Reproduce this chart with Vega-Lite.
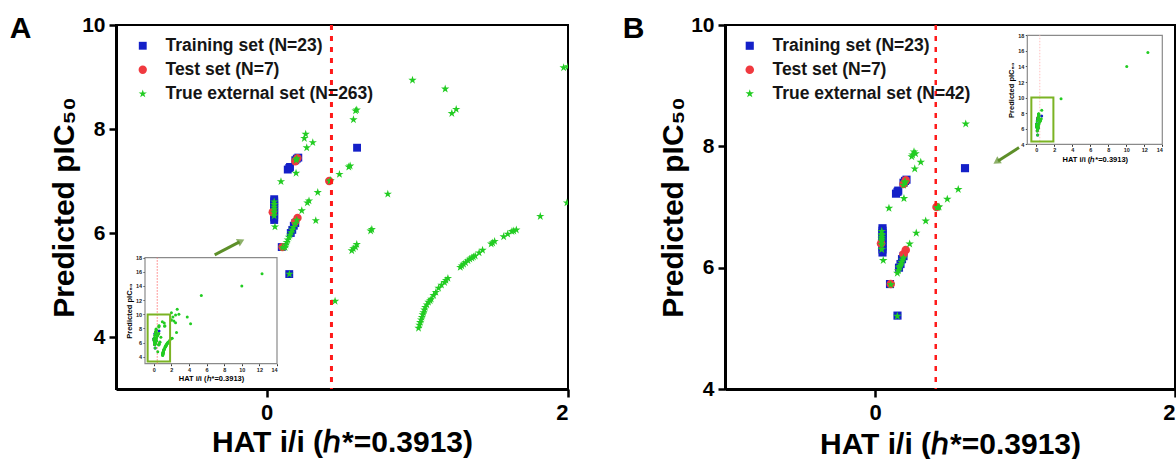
{
  "$schema": "https://vega.github.io/schema/vega-lite/v6.json",
  "padding": {"left": 8, "top": 13, "right": 0, "bottom": 0},
  "background": "white",
  "config": {
    "font": "Liberation Sans",
    "view": {"stroke": "black", "strokeWidth": 2},
    "axis": {"grid": false, "domainColor": "black", "domainWidth": 3, "tickColor": "black", "tickWidth": 2.5, "labelColor": "black", "titleColor": "black", "labelFontWeight": "bold", "titleFontWeight": "bold", "labelFont": "Liberation Sans", "titleFont": "Liberation Sans", "format": "d"},
    "legend": {"labelFont": "Liberation Sans", "labelLimit": 0},
    "title": {"font": "Liberation Sans"}
  },
  "datasets": {
    "A": [
      {"set": "Training set (N=23)", "h": 0.05, "p": 6.65}, {"set": "Training set (N=23)", "h": 0.05, "p": 6.61}, {"set": "Training set (N=23)", "h": 0.05, "p": 6.57}, {"set": "Training set (N=23)", "h": 0.05, "p": 6.53}, {"set": "Training set (N=23)", "h": 0.05, "p": 6.49}, {"set": "Training set (N=23)", "h": 0.05, "p": 6.45}, {"set": "Training set (N=23)", "h": 0.05, "p": 6.40}, {"set": "Training set (N=23)", "h": 0.05, "p": 6.35}, {"set": "Training set (N=23)", "h": 0.05, "p": 6.30}, {"set": "Training set (N=23)", "h": 0.05, "p": 6.25},
      {"set": "Training set (N=23)", "h": 0.14, "p": 7.22}, {"set": "Training set (N=23)", "h": 0.15, "p": 7.25}, {"set": "Training set (N=23)", "h": 0.155, "p": 7.27}, {"set": "Training set (N=23)", "h": 0.19, "p": 7.40}, {"set": "Training set (N=23)", "h": 0.20, "p": 7.43}, {"set": "Training set (N=23)", "h": 0.21, "p": 7.45}, {"set": "Training set (N=23)", "h": 0.60, "p": 7.64}, {"set": "Training set (N=23)", "h": 0.15, "p": 5.21}, {"set": "Training set (N=23)", "h": 0.10, "p": 5.73}, {"set": "Training set (N=23)", "h": 0.18, "p": 6.14}, {"set": "Training set (N=23)", "h": 0.19, "p": 6.19}, {"set": "Training set (N=23)", "h": 0.16, "p": 6.0}, {"set": "Training set (N=23)", "h": 0.17, "p": 6.06},
      {"set": "Test set (N=7)", "h": 0.04, "p": 6.40}, {"set": "Test set (N=7)", "h": 0.105, "p": 5.73}, {"set": "Test set (N=7)", "h": 0.19, "p": 6.22}, {"set": "Test set (N=7)", "h": 0.205, "p": 6.29}, {"set": "Test set (N=7)", "h": 0.19, "p": 7.38}, {"set": "Test set (N=7)", "h": 0.205, "p": 7.44}, {"set": "Test set (N=7)", "h": 0.415, "p": 7.0},
      {"set": "True external set (N=263)", "h": 0.259, "p": 7.90}, {"set": "True external set (N=263)", "h": 0.25, "p": 7.82}, {"set": "True external set (N=263)", "h": 0.306, "p": 7.74}, {"set": "True external set (N=263)", "h": 0.266, "p": 7.64}, {"set": "True external set (N=263)", "h": 0.195, "p": 7.40}, {"set": "True external set (N=263)", "h": 0.20, "p": 7.43}, {"set": "True external set (N=263)", "h": 0.195, "p": 7.15}, {"set": "True external set (N=263)", "h": 0.095, "p": 6.99},
      {"set": "True external set (N=263)", "h": 0.05, "p": 6.60}, {"set": "True external set (N=263)", "h": 0.05, "p": 6.55}, {"set": "True external set (N=263)", "h": 0.05, "p": 6.50}, {"set": "True external set (N=263)", "h": 0.05, "p": 6.45}, {"set": "True external set (N=263)", "h": 0.05, "p": 6.40}, {"set": "True external set (N=263)", "h": 0.05, "p": 6.33}, {"set": "True external set (N=263)", "h": 0.055, "p": 6.12},
      {"set": "True external set (N=263)", "h": 0.326, "p": 6.24}, {"set": "True external set (N=263)", "h": 0.233, "p": 6.43}, {"set": "True external set (N=263)", "h": 0.281, "p": 6.62}, {"set": "True external set (N=263)", "h": 0.27, "p": 6.58}, {"set": "True external set (N=263)", "h": 0.339, "p": 6.78}, {"set": "True external set (N=263)", "h": 0.42, "p": 7.0}, {"set": "True external set (N=263)", "h": 0.425, "p": 7.01}, {"set": "True external set (N=263)", "h": 0.483, "p": 7.13}, {"set": "True external set (N=263)", "h": 0.545, "p": 7.27}, {"set": "True external set (N=263)", "h": 0.554, "p": 7.29},
      {"set": "True external set (N=263)", "h": 0.2, "p": 6.25}, {"set": "True external set (N=263)", "h": 0.19, "p": 6.18}, {"set": "True external set (N=263)", "h": 0.177, "p": 6.11}, {"set": "True external set (N=263)", "h": 0.17, "p": 6.06}, {"set": "True external set (N=263)", "h": 0.162, "p": 6.01}, {"set": "True external set (N=263)", "h": 0.155, "p": 5.96}, {"set": "True external set (N=263)", "h": 0.148, "p": 5.92}, {"set": "True external set (N=263)", "h": 0.14, "p": 5.87}, {"set": "True external set (N=263)", "h": 0.133, "p": 5.82}, {"set": "True external set (N=263)", "h": 0.128, "p": 5.77}, {"set": "True external set (N=263)", "h": 0.122, "p": 5.72}, {"set": "True external set (N=263)", "h": 0.105, "p": 5.72},
      {"set": "True external set (N=263)", "h": 0.151, "p": 5.21}, {"set": "True external set (N=263)", "h": 0.454, "p": 4.69},
      {"set": "True external set (N=263)", "h": 0.565, "p": 5.66}, {"set": "True external set (N=263)", "h": 0.575, "p": 5.70}, {"set": "True external set (N=263)", "h": 0.59, "p": 5.73}, {"set": "True external set (N=263)", "h": 0.598, "p": 5.78},
      {"set": "True external set (N=263)", "h": 0.69, "p": 6.04}, {"set": "True external set (N=263)", "h": 0.698, "p": 6.07}, {"set": "True external set (N=263)", "h": 0.804, "p": 6.75},
      {"set": "True external set (N=263)", "h": 0.576, "p": 8.18}, {"set": "True external set (N=263)", "h": 0.59, "p": 8.35}, {"set": "True external set (N=263)", "h": 0.598, "p": 8.37},
      {"set": "True external set (N=263)", "h": 0.968, "p": 8.94}, {"set": "True external set (N=263)", "h": 1.185, "p": 8.77}, {"set": "True external set (N=263)", "h": 1.229, "p": 8.30}, {"set": "True external set (N=263)", "h": 1.258, "p": 8.38},
      {"set": "True external set (N=263)", "h": 1.971, "p": 9.18}, {"set": "True external set (N=263)", "h": 1.993, "p": 6.58}, {"set": "True external set (N=263)", "h": 1.816, "p": 6.32},
      {"set": "True external set (N=263)", "h": 1.008, "p": 4.17}, {"set": "True external set (N=263)", "h": 1.014, "p": 4.23}, {"set": "True external set (N=263)", "h": 1.019, "p": 4.28}, {"set": "True external set (N=263)", "h": 1.025, "p": 4.33}, {"set": "True external set (N=263)", "h": 1.03, "p": 4.38}, {"set": "True external set (N=263)", "h": 1.036, "p": 4.43}, {"set": "True external set (N=263)", "h": 1.041, "p": 4.47}, {"set": "True external set (N=263)", "h": 1.047, "p": 4.52}, {"set": "True external set (N=263)", "h": 1.052, "p": 4.57}, {"set": "True external set (N=263)", "h": 1.063, "p": 4.62}, {"set": "True external set (N=263)", "h": 1.074, "p": 4.67}, {"set": "True external set (N=263)", "h": 1.085, "p": 4.70}, {"set": "True external set (N=263)", "h": 1.092, "p": 4.73}, {"set": "True external set (N=263)", "h": 1.108, "p": 4.80}, {"set": "True external set (N=263)", "h": 1.123, "p": 4.86}, {"set": "True external set (N=263)", "h": 1.141, "p": 4.94}, {"set": "True external set (N=263)", "h": 1.16, "p": 5.0}, {"set": "True external set (N=263)", "h": 1.181, "p": 5.05}, {"set": "True external set (N=263)", "h": 1.19, "p": 5.09}, {"set": "True external set (N=263)", "h": 1.203, "p": 5.13},
      {"set": "True external set (N=263)", "h": 1.285, "p": 5.34}, {"set": "True external set (N=263)", "h": 1.295, "p": 5.37}, {"set": "True external set (N=263)", "h": 1.307, "p": 5.40}, {"set": "True external set (N=263)", "h": 1.32, "p": 5.43}, {"set": "True external set (N=263)", "h": 1.336, "p": 5.47}, {"set": "True external set (N=263)", "h": 1.348, "p": 5.50}, {"set": "True external set (N=263)", "h": 1.362, "p": 5.52}, {"set": "True external set (N=263)", "h": 1.372, "p": 5.54}, {"set": "True external set (N=263)", "h": 1.384, "p": 5.56}, {"set": "True external set (N=263)", "h": 1.41, "p": 5.62}, {"set": "True external set (N=263)", "h": 1.433, "p": 5.67}, {"set": "True external set (N=263)", "h": 1.49, "p": 5.79}, {"set": "True external set (N=263)", "h": 1.50, "p": 5.81}, {"set": "True external set (N=263)", "h": 1.513, "p": 5.84}, {"set": "True external set (N=263)", "h": 1.573, "p": 5.93}, {"set": "True external set (N=263)", "h": 1.60, "p": 5.98}, {"set": "True external set (N=263)", "h": 1.628, "p": 6.03}, {"set": "True external set (N=263)", "h": 1.64, "p": 6.04}, {"set": "True external set (N=263)", "h": 1.657, "p": 6.06},
      {"set": "True external set (N=263)", "h": 2.0, "p": 10.2}, {"set": "True external set (N=263)", "h": 2.0, "p": 9.2}, {"set": "True external set (N=263)", "h": 2.09, "p": 6.6}, {"set": "True external set (N=263)", "h": 2.17, "p": 9.6}, {"set": "True external set (N=263)", "h": 2.28, "p": 9.05}, {"set": "True external set (N=263)", "h": 2.47, "p": 9.9}, {"set": "True external set (N=263)", "h": 2.47, "p": 8.8}, {"set": "True external set (N=263)", "h": 2.58, "p": 7.4}, {"set": "True external set (N=263)", "h": 2.66, "p": 10.7}, {"set": "True external set (N=263)", "h": 2.85, "p": 10.0}, {"set": "True external set (N=263)", "h": 3.8, "p": 9.6}, {"set": "True external set (N=263)", "h": 4.18, "p": 8.67}, {"set": "True external set (N=263)", "h": 5.4, "p": 12.65}, {"set": "True external set (N=263)", "h": 10.0, "p": 14.0}, {"set": "True external set (N=263)", "h": 12.3, "p": 15.74}
    ],
    "B": [
      {"set": "Training set (N=23)", "h": 0.05, "p": 6.65}, {"set": "Training set (N=23)", "h": 0.05, "p": 6.61}, {"set": "Training set (N=23)", "h": 0.05, "p": 6.57}, {"set": "Training set (N=23)", "h": 0.05, "p": 6.53}, {"set": "Training set (N=23)", "h": 0.05, "p": 6.49}, {"set": "Training set (N=23)", "h": 0.05, "p": 6.45}, {"set": "Training set (N=23)", "h": 0.05, "p": 6.40}, {"set": "Training set (N=23)", "h": 0.05, "p": 6.35}, {"set": "Training set (N=23)", "h": 0.05, "p": 6.30}, {"set": "Training set (N=23)", "h": 0.05, "p": 6.25},
      {"set": "Training set (N=23)", "h": 0.14, "p": 7.22}, {"set": "Training set (N=23)", "h": 0.15, "p": 7.25}, {"set": "Training set (N=23)", "h": 0.155, "p": 7.27}, {"set": "Training set (N=23)", "h": 0.19, "p": 7.40}, {"set": "Training set (N=23)", "h": 0.20, "p": 7.43}, {"set": "Training set (N=23)", "h": 0.21, "p": 7.45}, {"set": "Training set (N=23)", "h": 0.60, "p": 7.64}, {"set": "Training set (N=23)", "h": 0.15, "p": 5.21}, {"set": "Training set (N=23)", "h": 0.10, "p": 5.73}, {"set": "Training set (N=23)", "h": 0.18, "p": 6.14}, {"set": "Training set (N=23)", "h": 0.19, "p": 6.19}, {"set": "Training set (N=23)", "h": 0.16, "p": 6.0}, {"set": "Training set (N=23)", "h": 0.17, "p": 6.06},
      {"set": "Test set (N=7)", "h": 0.04, "p": 6.40}, {"set": "Test set (N=7)", "h": 0.105, "p": 5.73}, {"set": "Test set (N=7)", "h": 0.19, "p": 6.22}, {"set": "Test set (N=7)", "h": 0.205, "p": 6.29}, {"set": "Test set (N=7)", "h": 0.19, "p": 7.38}, {"set": "Test set (N=7)", "h": 0.205, "p": 7.44}, {"set": "Test set (N=7)", "h": 0.41, "p": 7.0},
      {"set": "True external set (N=42)", "h": 0.605, "p": 8.37}, {"set": "True external set (N=42)", "h": 0.26, "p": 7.91}, {"set": "True external set (N=42)", "h": 0.245, "p": 7.83}, {"set": "True external set (N=42)", "h": 0.305, "p": 7.74}, {"set": "True external set (N=42)", "h": 0.265, "p": 7.63}, {"set": "True external set (N=42)", "h": 0.20, "p": 7.42}, {"set": "True external set (N=42)", "h": 0.19, "p": 7.36}, {"set": "True external set (N=42)", "h": 0.193, "p": 7.14}, {"set": "True external set (N=42)", "h": 0.093, "p": 6.98}, {"set": "True external set (N=42)", "h": 0.427, "p": 7.0},
      {"set": "True external set (N=42)", "h": 0.415, "p": 6.99}, {"set": "True external set (N=42)", "h": 0.482, "p": 7.13}, {"set": "True external set (N=42)", "h": 0.555, "p": 7.29}, {"set": "True external set (N=42)", "h": 0.338, "p": 6.77}, {"set": "True external set (N=42)", "h": 0.275, "p": 6.57}, {"set": "True external set (N=42)", "h": 0.231, "p": 6.39}, {"set": "True external set (N=42)", "h": 0.045, "p": 6.60}, {"set": "True external set (N=42)", "h": 0.045, "p": 6.55}, {"set": "True external set (N=42)", "h": 0.045, "p": 6.50}, {"set": "True external set (N=42)", "h": 0.045, "p": 6.44},
      {"set": "True external set (N=42)", "h": 0.045, "p": 6.38}, {"set": "True external set (N=42)", "h": 0.045, "p": 6.30}, {"set": "True external set (N=42)", "h": 0.055, "p": 6.12}, {"set": "True external set (N=42)", "h": 0.182, "p": 6.13}, {"set": "True external set (N=42)", "h": 0.176, "p": 6.09}, {"set": "True external set (N=42)", "h": 0.171, "p": 6.05}, {"set": "True external set (N=42)", "h": 0.16, "p": 6.0}, {"set": "True external set (N=42)", "h": 0.149, "p": 5.91}, {"set": "True external set (N=42)", "h": 0.105, "p": 5.72}, {"set": "True external set (N=42)", "h": 0.149, "p": 5.2},
      {"set": "True external set (N=42)", "h": 2.75, "p": 9.85}, {"set": "True external set (N=42)", "h": 10.05, "p": 14.0}, {"set": "True external set (N=42)", "h": 12.4, "p": 15.8}, {"set": "True external set (N=42)", "h": 0.27, "p": 7.88}, {"set": "True external set (N=42)", "h": 0.19, "p": 6.16}, {"set": "True external set (N=42)", "h": 0.045, "p": 6.47}, {"set": "True external set (N=42)", "h": 0.2, "p": 7.40}, {"set": "True external set (N=42)", "h": 0.165, "p": 6.02}, {"set": "True external set (N=42)", "h": 0.045, "p": 6.53}, {"set": "True external set (N=42)", "h": 0.42, "p": 7.0},
      {"set": "True external set (N=42)", "h": 0.25, "p": 7.86}, {"set": "True external set (N=42)", "h": 0.155, "p": 5.95}
    ]
  },
  "hconcat": [
    {
      "title": {"text": "A", "anchor": "start", "frame": "bounds", "fontSize": 30, "fontWeight": "bold", "color": "black", "offset": -30, "dx": -40},
      "width": 452,
      "height": 364,
      "resolve": {"scale": {"x": "independent", "y": "independent"}, "axis": {"x": "independent", "y": "independent"}},
      "layer": [
        {
          "layer": [
            {
              "data": {"name": "A"},
              "mark": {"type": "point", "filled": true, "opacity": 1, "strokeWidth": 0, "clip": true},
              "encoding": {
                "x": {"field": "h", "type": "quantitative", "scale": {"domain": [-1, 2], "nice": false, "zero": false}, "axis": {"values": [0, 2], "title": "HAT i/i (ℎ*=0.3913)", "labelFontSize": 22, "titleFontSize": 30, "tickSize": 8, "labelPadding": 5, "titlePadding": 4}},
                "y": {"field": "p", "type": "quantitative", "scale": {"domain": [3, 10], "nice": false, "zero": false}, "axis": {"values": [4, 6, 8, 10], "title": "Predicted pIC₅₀", "labelFontSize": 21, "titleFontSize": 30, "tickSize": 7, "labelPadding": 4, "titlePadding": 2}},
                "color": {"field": "set", "type": "nominal", "sort": null, "scale": {"domain": ["Training set (N=23)", "Test set (N=7)", "True external set (N=263)"], "range": ["#1420c8", "#f0393f", "#22cc22"]}, "legend": {"title": null, "orient": "none", "legendX": 18, "legendY": 12, "labelFontSize": 17.5, "labelFontWeight": "bold", "labelColor": "#151515", "symbolSize": 85, "rowPadding": 5, "labelOffset": 14, "padding": 0, "symbolStrokeWidth": 0, "labelLimit": 0}},
                "shape": {"field": "set", "type": "nominal", "sort": null, "scale": {"domain": ["Training set (N=23)", "Test set (N=7)", "True external set (N=263)"], "range": ["square", "circle", "M0,-1L0.2245,-0.309L0.951,-0.309L0.363,0.118L0.588,0.809L0,0.382L-0.588,0.809L-0.363,0.118L-0.951,-0.309L-0.2245,-0.309Z"]}, "legend": {"title": null, "orient": "none", "legendX": 18, "legendY": 12, "labelFontSize": 17.5, "labelFontWeight": "bold", "labelColor": "#151515", "symbolSize": 85, "rowPadding": 5, "labelOffset": 14, "padding": 0, "symbolStrokeWidth": 0, "labelLimit": 0}},
                "size": {"field": "set", "type": "nominal", "sort": null, "scale": {"domain": ["Training set (N=23)", "Test set (N=7)", "True external set (N=263)"], "range": [62, 76, 165]}, "legend": null}
              }
            },
            {
              "data": {"values": [{}]},
              "mark": {"type": "rule", "color": "#ff1a1a", "strokeWidth": 3, "strokeDash": [5, 6]},
              "encoding": {"x": {"datum": 0.43, "type": "quantitative", "scale": {"domain": [-1, 2], "nice": false, "zero": false}}}
            },
            {
              "data": {"values": [{}]},
              "mark": {"type": "rule", "color": "#5d8f29", "strokeWidth": 3},
              "encoding": {"x": {"datum": -0.345, "type": "quantitative", "scale": {"domain": [-1, 2], "nice": false, "zero": false}}, "y": {"datum": 5.58, "type": "quantitative", "scale": {"domain": [3, 10], "nice": false, "zero": false}}, "x2": {"datum": -0.18}, "y2": {"datum": 5.83}}
            },
            {
              "data": {"values": [{}]},
              "mark": {"type": "point", "shape": "triangle-right", "filled": true, "color": "#5d8f29", "size": 70, "angle": -27, "strokeWidth": 0},
              "encoding": {"x": {"datum": -0.17, "type": "quantitative", "scale": {"domain": [-1, 2], "nice": false, "zero": false}}, "y": {"datum": 5.845, "type": "quantitative", "scale": {"domain": [3, 10], "nice": false, "zero": false}}}
            }
          ]
        },
        {
          "layer": [
            {
              "data": {"values": [{}]},
              "mark": {"type": "rect", "fill": "white", "stroke": "#8a8a8a", "strokeWidth": 1.2},
              "encoding": {"x": {"datum": -1, "type": "quantitative", "scale": {"domain": [-1, 14], "range": [29, 161], "nice": false, "zero": false}}, "x2": {"datum": 14}, "y": {"datum": 3, "type": "quantitative", "scale": {"domain": [3, 18], "range": [338.7, 232.7], "nice": false, "zero": false}}, "y2": {"datum": 18}}
            },
            {
              "data": {"values": [{}]},
              "mark": {"type": "rule", "color": "#ff7a7a", "strokeWidth": 1, "strokeDash": [1.5, 1.5]},
              "encoding": {"x": {"datum": 0.39, "type": "quantitative", "scale": {"domain": [-1, 14], "range": [29, 161], "nice": false, "zero": false}}, "y": {"datum": 3, "type": "quantitative", "scale": {"domain": [3, 18], "range": [338.7, 232.7], "nice": false, "zero": false}}, "y2": {"datum": 18}}
            },
            {
              "data": {"name": "A"},
              "mark": {"type": "point", "filled": true, "opacity": 1, "strokeWidth": 0, "size": 9},
              "encoding": {
                "x": {"field": "h", "type": "quantitative", "scale": {"domain": [-1, 14], "range": [29, 161], "nice": false, "zero": false}, "axis": {"orient": "bottom", "offset": -25.3, "values": [0, 2, 4, 6, 8, 10, 12, 14], "title": "HAT i/i (ℎ*=0.3913)", "labelFontSize": 5.5, "titleFontSize": 7.5, "tickSize": 2, "tickWidth": 0.8, "domain": false, "labelPadding": 1.5, "titlePadding": 2, "labelColor": "#222"}},
                "y": {"field": "p", "type": "quantitative", "scale": {"domain": [3, 18], "range": [338.7, 232.7], "nice": false, "zero": false}, "axis": {"orient": "left", "offset": -29, "values": [4, 6, 8, 10, 12, 14, 16, 18], "title": "Predicted pIC₅₀", "labelFontSize": 5.5, "titleFontSize": 7.5, "tickSize": 2, "tickWidth": 0.8, "domain": false, "labelPadding": 1.5, "titlePadding": 2, "labelColor": "#222"}},
                "color": {"field": "set", "type": "nominal", "sort": null, "legend": null},
                "shape": {"value": "circle"}
              }
            },
            {
              "data": {"values": [{}]},
              "mark": {"type": "rect", "fill": "white", "fillOpacity": 0, "stroke": "#7bb324", "strokeWidth": 2},
              "encoding": {"x": {"datum": -0.7, "type": "quantitative", "scale": {"domain": [-1, 14], "range": [29, 161], "nice": false, "zero": false}}, "x2": {"datum": 1.85}, "y": {"datum": 3.3, "type": "quantitative", "scale": {"domain": [3, 18], "range": [338.7, 232.7], "nice": false, "zero": false}}, "y2": {"datum": 9.95}}
            }
          ]
        }
      ]
    },
    {
      "title": {"text": "B", "anchor": "start", "frame": "bounds", "fontSize": 30, "fontWeight": "bold", "color": "black", "offset": -30, "dx": -36},
      "width": 450,
      "height": 364,
      "resolve": {"scale": {"x": "independent", "y": "independent"}, "axis": {"x": "independent", "y": "independent"}},
      "layer": [
        {
          "layer": [
            {
              "data": {"name": "B"},
              "mark": {"type": "point", "filled": true, "opacity": 1, "strokeWidth": 0, "clip": true},
              "encoding": {
                "x": {"field": "h", "type": "quantitative", "scale": {"domain": [-1, 2], "nice": false, "zero": false}, "axis": {"values": [0, 2], "title": "HAT i/i (ℎ*=0.3913)", "labelFontSize": 22, "titleFontSize": 30, "tickSize": 8, "labelPadding": 5, "titlePadding": 6}},
                "y": {"field": "p", "type": "quantitative", "scale": {"domain": [4, 10], "nice": false, "zero": false}, "axis": {"values": [4, 6, 8, 10], "title": "Predicted pIC₅₀", "labelFontSize": 21, "titleFontSize": 30, "tickSize": 7, "labelPadding": 4, "titlePadding": 2}},
                "color": {"field": "set", "type": "nominal", "sort": null, "scale": {"domain": ["Training set (N=23)", "Test set (N=7)", "True external set (N=42)"], "range": ["#1420c8", "#f0393f", "#22cc22"]}, "legend": {"title": null, "orient": "none", "legendX": 16, "legendY": 12, "labelFontSize": 17.5, "labelFontWeight": "bold", "labelColor": "#151515", "symbolSize": 85, "rowPadding": 5, "labelOffset": 14, "padding": 0, "symbolStrokeWidth": 0, "labelLimit": 0}},
                "shape": {"field": "set", "type": "nominal", "sort": null, "scale": {"domain": ["Training set (N=23)", "Test set (N=7)", "True external set (N=42)"], "range": ["square", "circle", "M0,-1L0.2245,-0.309L0.951,-0.309L0.363,0.118L0.588,0.809L0,0.382L-0.588,0.809L-0.363,0.118L-0.951,-0.309L-0.2245,-0.309Z"]}, "legend": {"title": null, "orient": "none", "legendX": 16, "legendY": 12, "labelFontSize": 17.5, "labelFontWeight": "bold", "labelColor": "#151515", "symbolSize": 85, "rowPadding": 5, "labelOffset": 14, "padding": 0, "symbolStrokeWidth": 0, "labelLimit": 0}},
                "size": {"field": "set", "type": "nominal", "sort": null, "scale": {"domain": ["Training set (N=23)", "Test set (N=7)", "True external set (N=42)"], "range": [66, 80, 170]}, "legend": null}
              }
            },
            {
              "data": {"values": [{}]},
              "mark": {"type": "rule", "color": "#ff1a1a", "strokeWidth": 2.5, "strokeDash": [5, 6]},
              "encoding": {"x": {"datum": 0.405, "type": "quantitative", "scale": {"domain": [-1, 2], "nice": false, "zero": false}}}
            },
            {
              "data": {"values": [{}]},
              "mark": {"type": "rule", "color": "#5d8f29", "strokeWidth": 3},
              "encoding": {"x": {"datum": 0.96, "type": "quantitative", "scale": {"domain": [-1, 2], "nice": false, "zero": false}}, "y": {"datum": 7.98, "type": "quantitative", "scale": {"domain": [4, 10], "nice": false, "zero": false}}, "x2": {"datum": 0.82}, "y2": {"datum": 7.76}}
            },
            {
              "data": {"values": [{}]},
              "mark": {"type": "point", "shape": "triangle-right", "filled": true, "color": "#5d8f29", "size": 70, "angle": 147, "strokeWidth": 0},
              "encoding": {"x": {"datum": 0.81, "type": "quantitative", "scale": {"domain": [-1, 2], "nice": false, "zero": false}}, "y": {"datum": 7.745, "type": "quantitative", "scale": {"domain": [4, 10], "nice": false, "zero": false}}}
            }
          ]
        },
        {
          "layer": [
            {
              "data": {"values": [{}]},
              "mark": {"type": "rect", "fill": "white", "stroke": "#8a8a8a", "strokeWidth": 1.2},
              "encoding": {"x": {"datum": -1, "type": "quantitative", "scale": {"domain": [-1, 14], "range": [302.3, 437.3], "nice": false, "zero": false}}, "x2": {"datum": 14}, "y": {"datum": 4, "type": "quantitative", "scale": {"domain": [4, 18], "range": [119.3, 10.3], "nice": false, "zero": false}}, "y2": {"datum": 18}}
            },
            {
              "data": {"values": [{}]},
              "mark": {"type": "rule", "color": "#ffc0c0", "strokeWidth": 1, "strokeDash": [1.5, 1.5]},
              "encoding": {"x": {"datum": 0.39, "type": "quantitative", "scale": {"domain": [-1, 14], "range": [302.3, 437.3], "nice": false, "zero": false}}, "y": {"datum": 4, "type": "quantitative", "scale": {"domain": [4, 18], "range": [119.3, 10.3], "nice": false, "zero": false}}, "y2": {"datum": 18}}
            },
            {
              "data": {"name": "B"},
              "mark": {"type": "point", "filled": true, "opacity": 1, "strokeWidth": 0, "size": 9},
              "encoding": {
                "x": {"field": "h", "type": "quantitative", "scale": {"domain": [-1, 14], "range": [302.3, 437.3], "nice": false, "zero": false}, "axis": {"orient": "bottom", "offset": -244.7, "values": [0, 2, 4, 6, 8, 10, 12, 14], "title": "HAT i/i (ℎ*=0.3913)", "labelFontSize": 5.5, "titleFontSize": 7.5, "tickSize": 2, "tickWidth": 0.8, "domain": false, "labelPadding": 1.5, "titlePadding": 2, "labelColor": "#222"}},
                "y": {"field": "p", "type": "quantitative", "scale": {"domain": [4, 18], "range": [119.3, 10.3], "nice": false, "zero": false}, "axis": {"orient": "left", "offset": -302.3, "values": [4, 6, 8, 10, 12, 14, 16, 18], "title": "Predicted pIC₅₀", "labelFontSize": 5.5, "titleFontSize": 7.5, "tickSize": 2, "tickWidth": 0.8, "domain": false, "labelPadding": 1.5, "titlePadding": 2, "labelColor": "#222"}},
                "color": {"field": "set", "type": "nominal", "sort": null, "legend": null},
                "shape": {"value": "circle"}
              }
            },
            {
              "data": {"values": [{}]},
              "mark": {"type": "rect", "fill": "white", "fillOpacity": 0, "stroke": "#7bb324", "strokeWidth": 2},
              "encoding": {"x": {"datum": -0.55, "type": "quantitative", "scale": {"domain": [-1, 14], "range": [302.3, 437.3], "nice": false, "zero": false}}, "x2": {"datum": 1.9}, "y": {"datum": 4.35, "type": "quantitative", "scale": {"domain": [4, 18], "range": [119.3, 10.3], "nice": false, "zero": false}}, "y2": {"datum": 10.0}}
            }
          ]
        }
      ]
    }
  ],
  "spacing": 50,
  "resolve": {"scale": {"x": "independent", "y": "independent", "color": "independent", "shape": "independent", "size": "independent"}, "legend": {"color": "independent", "shape": "independent"}}
}
